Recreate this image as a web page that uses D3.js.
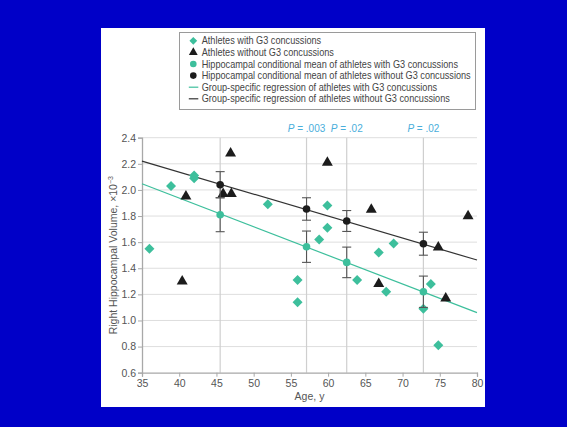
<!DOCTYPE html>
<html>
<head>
<meta charset="utf-8">
<script src="https://cdn.jsdelivr.net/npm/d3@7"></script>
<style>
  html, body { margin: 0; padding: 0; background: #0000c8; }
  svg { display: block; }
  text { font-family: "Liberation Sans", Arial, sans-serif; }
</style>
</head>
<body>
<svg id="chart" width="567" height="427"></svg>
<script>
// Athletes with grade 3 concussions
const withAge = [36.0, 38.9, 42.0, 42.0, 51.9, 55.9, 55.9, 58.8, 59.9, 59.9, 63.9, 66.8, 67.8, 68.8, 72.8, 73.8, 74.8];
const withVol = [1.55, 2.03, 2.11, 2.09, 1.89, 1.31, 1.14, 1.62, 1.88, 1.71, 1.31, 1.52, 1.22, 1.59, 1.09, 1.28, 0.81];

// Athletes without grade 3 concussions
const withoutAge = [40.4, 40.9, 45.9, 47.0, 46.9, 59.9, 65.8, 66.8, 74.8, 75.8, 78.8];
const withoutVol = [1.30, 1.95, 1.97, 1.97, 2.28, 2.21, 1.85, 1.28, 1.56, 1.17, 1.80];

// Conditional means at selected ages, with error half-widths
const meanAges = [45.5, 57.1, 62.5, 72.8];
const meanWith = [1.81, 1.565, 1.445, 1.22];
const errWith = [0.13, 0.12, 0.117, 0.12];
const meanWithout = [2.04, 1.854, 1.762, 1.588];
const errWithout = [0.10, 0.086, 0.08, 0.088];
const pLabels = [".003", ".02", ".02"];
const pAges = [57.1, 62.5, 72.8];

// Group-specific regression lines (value at age 35 and at age 80)
const regAges = [35, 80];
const regWith = [2.047, 1.06];
const regWithout = [2.22, 1.463];

const xTicks = [35, 40, 45, 50, 55, 60, 65, 70, 75, 80];
const yTicks = [0.6, 0.8, 1.0, 1.2, 1.4, 1.6, 1.8, 2.0, 2.2, 2.4];

const legendLabels = [
  "Athletes with G3 concussions",
  "Athletes without G3 concussions",
  "Hippocampal conditional mean of athletes with G3 concussions",
  "Hippocampal conditional mean of athletes without G3 concussions",
  "Group-specific regression of athletes with G3 concussions",
  "Group-specific regression of athletes without G3 concussions"
];

const TEAL = "#3dbf9c";
const DARK = "#1c1c1c";
const P_BLUE = "#4aaedb";

const svg = d3.select("#chart");

// white card
svg.append("rect").attr("x", 101).attr("y", 28).attr("width", 384).attr("height", 379).attr("fill", "#ffffff");

const x = d3.scaleLinear().domain([35, 80]).range([142, 477]);
const y = d3.scaleLinear().domain([0.6, 2.4]).range([372.7, 137.7]);

const plot = svg.append("g");

// horizontal gridlines
plot.selectAll("line.hgrid").data(yTicks.slice(1)).join("line")
  .attr("class", "hgrid")
  .attr("x1", x(35)).attr("x2", x(80))
  .attr("y1", d => y(d)).attr("y2", d => y(d))
  .attr("stroke", "#dedede").attr("stroke-width", 1);

// vertical reference lines at mean ages
plot.selectAll("line.vgrid").data(meanAges).join("line")
  .attr("class", "vgrid")
  .attr("x1", d => x(d)).attr("x2", d => x(d))
  .attr("y1", y(2.4)).attr("y2", y(0.6))
  .attr("stroke", "#cfcfcf").attr("stroke-width", 1.2);

// axes
const xAxis = d3.axisBottom(x).tickValues(xTicks).tickSize(4).tickPadding(3).tickFormat(d3.format("d"));
const gx = plot.append("g").attr("transform", `translate(0,${y(0.6)})`).call(xAxis);
const yAxis = d3.axisLeft(y).tickValues(yTicks).tickSize(4).tickPadding(2).tickFormat(d3.format(".1f"));
const gy = plot.append("g").attr("transform", `translate(${x(35)},0)`).call(yAxis);
[gx, gy].forEach(g => {
  g.select(".domain").attr("stroke", "#a8a8a8").attr("stroke-width", 1.3);
  g.selectAll(".tick line").attr("stroke", "#a8a8a8");
  g.selectAll(".tick text").attr("fill", "#555").attr("font-size", 10.5)
    .attr("font-family", "'Liberation Sans', Arial, sans-serif");
});

// axis titles
svg.append("text").attr("x", (x(35) + x(80)) / 2).attr("y", 400)
  .attr("text-anchor", "middle").attr("font-size", 10.5).attr("fill", "#555").text("Age, y");
const yt = svg.append("text")
  .attr("transform", `translate(117,${(y(0.6) + y(2.4)) / 2}) rotate(-90)`)
  .attr("text-anchor", "middle").attr("font-size", 10.5).attr("fill", "#555");
yt.append("tspan").text("Right Hippocampal Volume, \u00d710");
yt.append("tspan").attr("dy", -4).attr("font-size", 7).text("\u22123");

// regression lines
const line = d3.line().x(d => x(d[0])).y(d => y(d[1]));
plot.append("path").datum(regAges.map((a, i) => [a, regWith[i]]))
  .attr("d", line).attr("fill", "none").attr("stroke", TEAL).attr("stroke-width", 1.2);
plot.append("path").datum(regAges.map((a, i) => [a, regWithout[i]]))
  .attr("d", line).attr("fill", "none").attr("stroke", "#333").attr("stroke-width", 1.2);

// data points
plot.selectAll("path.with").data(withAge.map((a, i) => [a, withVol[i]])).join("path")
  .attr("class", "with")
  .attr("d", d3.symbol().type(d3.symbolSquare).size(50)())
  .attr("transform", d => `translate(${x(d[0])},${y(d[1])}) rotate(45)`)
  .attr("fill", TEAL);

plot.selectAll("path.without").data(withoutAge.map((a, i) => [a, withoutVol[i]])).join("path")
  .attr("class", "without")
  .attr("d", d3.symbol().type(d3.symbolTriangle).size(52)())
  .attr("transform", d => `translate(${x(d[0])},${y(d[1])})`)
  .attr("fill", DARK);

// error bars then conditional means
function errorBars(means, errs) {
  const g = plot.append("g").attr("stroke", "#555").attr("stroke-width", 1.1);
  meanAges.forEach((a, i) => {
    const cx = x(a), top = y(means[i] + errs[i]), bot = y(means[i] - errs[i]);
    g.append("line").attr("x1", cx).attr("x2", cx).attr("y1", top).attr("y2", bot);
    g.append("line").attr("x1", cx - 4.5).attr("x2", cx + 4.5).attr("y1", top).attr("y2", top);
    g.append("line").attr("x1", cx - 4.5).attr("x2", cx + 4.5).attr("y1", bot).attr("y2", bot);
  });
}
errorBars(meanWith, errWith);
errorBars(meanWithout, errWithout);

plot.selectAll("circle.mw").data(meanAges.map((a, i) => [a, meanWith[i]])).join("circle")
  .attr("class", "mw").attr("cx", d => x(d[0])).attr("cy", d => y(d[1])).attr("r", 3.8).attr("fill", TEAL);
plot.selectAll("circle.mwo").data(meanAges.map((a, i) => [a, meanWithout[i]])).join("circle")
  .attr("class", "mwo").attr("cx", d => x(d[0])).attr("cy", d => y(d[1])).attr("r", 3.8).attr("fill", DARK);

// P values above reference lines
pAges.forEach((a, i) => {
  const t = svg.append("text").attr("x", x(a)).attr("y", 131.5).attr("text-anchor", "middle")
    .attr("font-size", 10).attr("fill", P_BLUE);
  t.append("tspan").attr("font-style", "italic").text("P");
  t.append("tspan").text(" = " + pLabels[i]);
});

// legend
const lg = svg.append("g");
lg.append("rect").attr("x", 179.5).attr("y", 32.5).attr("width", 296).attr("height", 77)
  .attr("fill", "#fff").attr("stroke", "#9a9a9a").attr("stroke-width", 1);
const rowY = i => 40.8 + i * 11.6;
const sx = 193.3;
lg.append("path").attr("d", d3.symbol().type(d3.symbolSquare).size(30)())
  .attr("transform", `translate(${sx},${rowY(0)}) rotate(45)`).attr("fill", TEAL);
lg.append("path").attr("d", d3.symbol().type(d3.symbolTriangle).size(34)())
  .attr("transform", `translate(${sx},${rowY(1)})`).attr("fill", DARK);
lg.append("circle").attr("cx", sx).attr("cy", rowY(2)).attr("r", 3.3).attr("fill", TEAL);
lg.append("circle").attr("cx", sx).attr("cy", rowY(3)).attr("r", 3.3).attr("fill", DARK);
lg.append("line").attr("x1", sx - 4.5).attr("x2", sx + 5).attr("y1", rowY(4)).attr("y2", rowY(4))
  .attr("stroke", TEAL).attr("stroke-width", 1.2);
lg.append("line").attr("x1", sx - 4.5).attr("x2", sx + 5).attr("y1", rowY(5)).attr("y2", rowY(5))
  .attr("stroke", "#333").attr("stroke-width", 1.2);

const texts = lg.selectAll("text.lab").data(legendLabels).join("text")
  .attr("class", "lab").attr("x", 201.7).attr("y", (d, i) => rowY(i) + 3.6)
  .attr("font-size", 10.5).attr("fill", "#444").text(d => d);
// condense legend text so the longest entry fits the box
const widths = texts.nodes().map(n => n.getComputedTextLength());
const k = 269 / d3.max(widths);
if (k < 1) texts.attr("textLength", (d, i) => widths[i] * k).attr("lengthAdjust", "spacingAndGlyphs");
</script>
</body>
</html>
